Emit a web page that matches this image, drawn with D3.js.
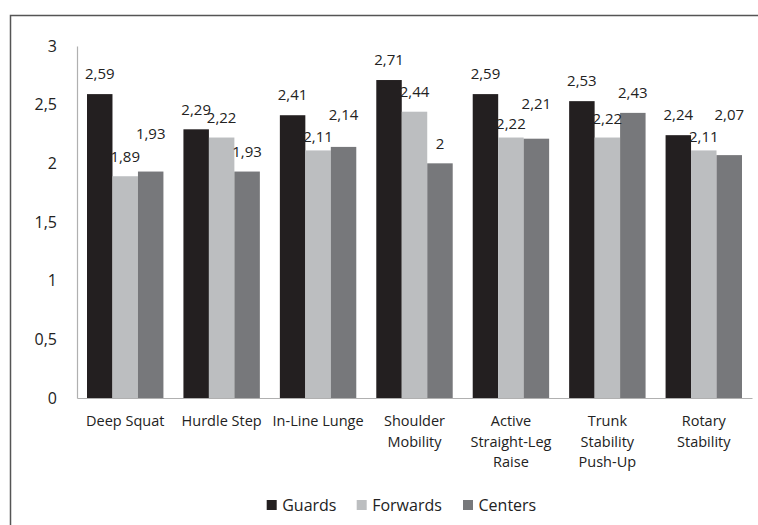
<!DOCTYPE html>
<html>
<head>
<meta charset="utf-8">
<script src="https://cdn.jsdelivr.net/npm/d3@7"></script>
<style>
  html, body { margin: 0; padding: 0; background: #fff; }
  svg { display: block; font-family: "Open Sans", sans-serif; }
</style>
</head>
<body>
<svg id="chart" width="758" height="525"></svg>
<script>
const categories = [
  ["Deep Squat"],
  ["Hurdle Step"],
  ["In-Line Lunge"],
  ["Shoulder", "Mobility"],
  ["Active", "Straight-Leg", "Raise"],
  ["Trunk", "Stability", "Push-Up"],
  ["Rotary", "Stability"]
];
const seriesNames = ["Guards", "Forwards", "Centers"];
const guards   = [2.59, 2.29, 2.41, 2.71, 2.59, 2.53, 2.24];
const forwards = [1.89, 2.22, 2.11, 2.44, 2.22, 2.22, 2.11];
const centers  = [1.93, 1.93, 2.14, 2.00, 2.21, 2.43, 2.07];
const yTicks = [0, 0.5, 1, 1.5, 2, 2.5, 3];

// layout: vertical nudges (px, positive = up) for value labels moved to avoid overlap
const labelNudge = [
  [0, 0, 0, 0, 0, 0, 0],
  [-1, 0, -6, 0, -6, -1, -6],
  [18, 0, 12, 0, 15, 0, 20]
];

const colors = ["#231f20", "#bcbec0", "#77787b"];
const seriesValues = [guards, forwards, centers];

const svg = d3.select("#chart");
const x0 = 77, x1 = 752, yTop = 46, yBot = 398;

// frame (cropped rectangle)
svg.append("rect")
  .attr("x", 10.5).attr("y", 15.5)
  .attr("width", 800).attr("height", 600)
  .attr("fill", "none").attr("stroke", "#555").attr("stroke-width", 1.5);

const x = d3.scaleBand().domain(d3.range(categories.length)).range([x0, x1])
  .paddingInner(20 / 96.4).paddingOuter(10 / 96.4);
const xs = d3.scaleBand().domain(d3.range(seriesNames.length)).range([0, x.bandwidth()]);
const y = d3.scaleLinear().domain([0, 3]).range([yBot, yTop]);

// y axis
const yAxis = d3.axisLeft(y).tickValues(yTicks).tickSize(0).tickPadding(20)
  .tickFormat(d => String(d).replace(".", ","));
const gy = svg.append("g").attr("transform", `translate(${x0},0)`).call(yAxis);
gy.select(".domain").attr("stroke", "#b0b0b0").attr("stroke-width", 1.2);
gy.selectAll("text").attr("font-size", 16).attr("fill", "#222")
  .attr("font-family", "Open Sans, sans-serif");

// bars
seriesValues.forEach((vals, si) => {
  svg.append("g").selectAll("rect").data(vals).join("rect")
    .attr("x", (d, i) => x(i) + xs(si))
    .attr("y", d => y(d))
    .attr("width", xs.bandwidth())
    .attr("height", d => yBot - y(d))
    .attr("fill", colors[si]);
});

// x axis line
const xAxisLine = d3.axisBottom(d3.scaleLinear().domain([0, 1]).range([x0, x1])).ticks(0).tickSize(0);
const gx = svg.append("g").attr("transform", `translate(0,${yBot})`).call(xAxisLine);
gx.select(".domain").attr("stroke", "#b0b0b0").attr("stroke-width", 1.2);
gx.selectAll(".tick").remove();

// value labels
seriesValues.forEach((vals, si) => {
  svg.append("g").selectAll("text").data(vals).join("text")
    .attr("x", (d, i) => x(i) + xs(si) + xs.bandwidth() / 2)
    .attr("y", (d, i) => y(d) - 20 - labelNudge[si][i])
    .attr("dy", "0.35em")
    .attr("text-anchor", "middle")
    .attr("font-size", 15).attr("fill", "#222")
    .text(d => String(d).replace(".", ","));
});

// category labels
const cat = svg.append("g").selectAll("text").data(categories).join("text")
  .attr("text-anchor", "middle")
  .attr("font-size", 14.5).attr("fill", "#222")
  .attr("transform", (d, i) => `translate(${x(i) + x.bandwidth() / 2},421)`);
cat.selectAll("tspan").data(d => d).join("tspan")
  .attr("x", 0).attr("y", (d, j) => j * 20.5).attr("dy", "0.35em")
  .text(d => d);

// legend
const legendX = [266.7, 356.7, 463];
const lg = svg.append("g").selectAll("g").data(seriesNames).join("g")
  .attr("transform", (d, i) => `translate(${legendX[i]},505)`);
lg.append("rect").attr("x", 0).attr("y", -5).attr("width", 10).attr("height", 10)
  .attr("fill", (d, i) => colors[i]);
lg.append("text").attr("x", 15.5).attr("dy", "0.35em")
  .attr("font-size", 16).attr("fill", "#222").text(d => d);
</script>
</body>
</html>
